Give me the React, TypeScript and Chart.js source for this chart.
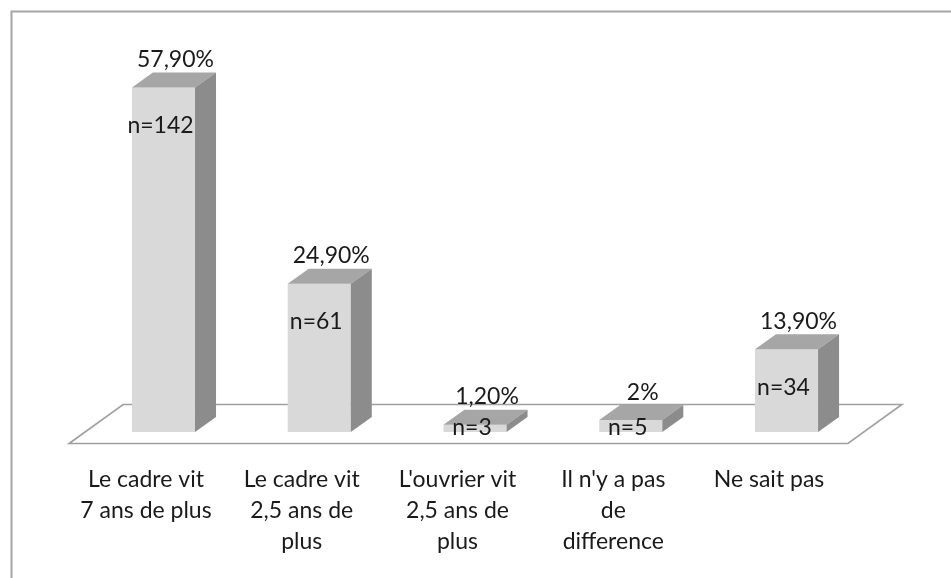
import React, { useEffect, useRef } from "react";
import { Chart, registerables } from "chart.js";

Chart.register(...registerables);

const categories: string[][] = [
  ["Le cadre vit", "7 ans de plus"],
  ["Le cadre vit", "2,5 ans de", "plus"],
  ["L'ouvrier vit", "2,5 ans de", "plus"],
  ["Il n'y a pas", "de", "difference"],
  ["Ne sait pas"],
];
const percentValues = [57.9, 24.9, 1.2, 2, 13.9];
const percentLabels = ["57,90%", "24,90%", "1,20%", "2%", "13,90%"];
const countLabels = ["n=142", "n=61", "n=3", "n=5", "n=34"];

const FONT = "23px Lato, 'Open Sans', sans-serif";
const TEXT = "#1a1a1a";
const DX = 21;
const DY = 15;

const bar3d = {
  id: "bar3d",
  beforeDatasetsDraw(chart: any) {
    const ctx = chart.ctx;
    const ca = chart.chartArea;
    const ys = chart.scales.y;
    ctx.save();
    // outer frame
    ctx.strokeStyle = "#a6a6a6";
    ctx.lineWidth = 2;
    ctx.beginPath();
    ctx.moveTo(11.5, 578);
    ctx.lineTo(11.5, 11.5);
    ctx.lineTo(951, 11.5);
    ctx.stroke();
    // floor
    const base = ys.getPixelForValue(0);
    const left = ca.left + DX / 2;
    const right = ca.right + DX / 2;
    const mid = base - 8;
    const hdx = 27;
    const hdy = 19.5;
    ctx.beginPath();
    ctx.moveTo(left - hdx, mid + hdy);
    ctx.lineTo(left + hdx, mid - hdy);
    ctx.lineTo(right + hdx, mid - hdy);
    ctx.lineTo(right - hdx, mid + hdy);
    ctx.closePath();
    ctx.fillStyle = "#ffffff";
    ctx.fill();
    ctx.strokeStyle = "#a0a0a0";
    ctx.lineWidth = 1.6;
    ctx.stroke();
    ctx.restore();
  },
  afterDatasetsDraw(chart: any) {
    const ctx = chart.ctx;
    const meta = chart.getDatasetMeta(0);
    ctx.save();
    meta.data.forEach((el: any) => {
      const x0 = el.x - el.width / 2;
      const x1 = el.x + el.width / 2;
      const top = el.y;
      const bottom = el.base;
      // top face
      ctx.beginPath();
      ctx.moveTo(x0, top);
      ctx.lineTo(x0 + DX, top - DY);
      ctx.lineTo(x1 + DX, top - DY);
      ctx.lineTo(x1, top);
      ctx.closePath();
      ctx.fillStyle = "#a6a6a6";
      ctx.fill();
      // side face
      ctx.beginPath();
      ctx.moveTo(x1, top);
      ctx.lineTo(x1 + DX, top - DY);
      ctx.lineTo(x1 + DX, bottom - DY);
      ctx.lineTo(x1, bottom);
      ctx.closePath();
      ctx.fillStyle = "#8c8c8c";
      ctx.fill();
    });
    ctx.font = FONT;
    ctx.fillStyle = TEXT;
    ctx.textAlign = "center";
    ctx.textBaseline = "middle";
    meta.data.forEach((el: any, i: number) => {
      const top = el.y;
      const bottom = el.base;
      ctx.fillText(percentLabels[i], el.x + 12, top - DY - 13);
      ctx.fillText(countLabels[i], el.x - 3, Math.min(top + 38, bottom - 4));
      const lines = categories[i];
      lines.forEach((line, j) => {
        ctx.fillText(line, el.x - 17.5, bottom + 48 + j * 31);
      });
    });
    ctx.restore();
  },
};

export default function App() {
  const ref = useRef<HTMLCanvasElement | null>(null);
  useEffect(() => {
    if (!ref.current) return;
    const chart = new Chart(ref.current, {
      type: "bar",
      data: {
        labels: categories.map((c) => c.join(" ")),
        datasets: [
          {
            data: percentValues,
            backgroundColor: "#d9d9d9",
            borderWidth: 0,
            categoryPercentage: 1,
            barPercentage: 0.405,
          },
        ],
      },
      options: {
        responsive: false,
        animation: false,
        devicePixelRatio: 1,
        layout: { padding: { left: 85.6, right: 86.6, top: 75, bottom: 146 } },
        scales: {
          x: { display: false, offset: true, grid: { display: false } },
          y: { display: false, min: 0, max: 60 },
        },
        plugins: {
          legend: { display: false },
          tooltip: { enabled: false },
        },
      },
      plugins: [bar3d],
    });
    return () => chart.destroy();
  }, []);
  return (
    <div style={{ position: "fixed", left: 0, top: 0, width: 951, height: 578, background: "#fff" }}>
      <canvas ref={ref} width={951} height={578} style={{ display: "block" }} />
    </div>
  );
}
